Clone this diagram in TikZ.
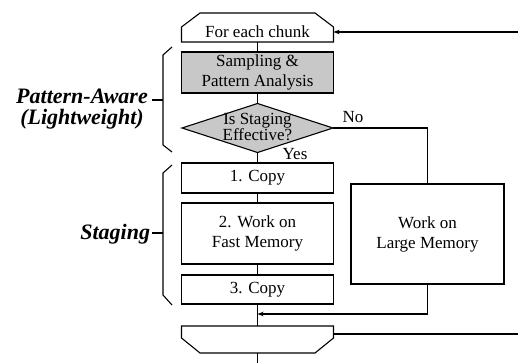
\documentclass[tikz,border=0pt]{standalone}
\usepackage{fontspec}
\setmainfont{Liberation Serif}
\usetikzlibrary{shapes.geometric,arrows.meta}
\definecolor{boxgray}{RGB}{200,200,200}
\begin{document}
\begin{tikzpicture}[x=1pt,y=-1pt,
  every node/.style={font=\fontsize{17}{20}\selectfont, inner sep=0pt, outer sep=0pt},
  box/.style={draw, line width=1.1pt, rectangle, align=center},
  shaded/.style={box, fill=boxgray},
  decision/.style={diamond, draw, line width=1.1pt, fill=boxgray},
  link/.style={line width=1.1pt},
  arrowlink/.style={link, -{Stealth[length=6pt,width=4.5pt]}},
  bracket/.style={line width=1.1pt},
  tag/.style={font=\fontsize{22}{21}\selectfont\bfseries\itshape, align=center}]
\useasboundingbox (0,0) rectangle (518,363);

% loop head and loop tail (chamfered outlines)
\draw[link] (181.5,42) -- (181.5,27) -- (200,13) -- (315,13) -- (333.5,27) -- (333.5,42) -- cycle;
\node[minimum width=152pt, minimum height=29pt, text height=21pt, text depth=0pt] (start) at (257.5,27.5) {For each chunk};

\draw[link] (181.5,326) -- (181.5,338) -- (200,353) -- (315,353) -- (333.5,338) -- (333.5,326) -- cycle;
\node[minimum width=152pt, minimum height=27pt] (end) at (257.5,339.5) {};

% pattern-aware part
\node[shaded, minimum width=152pt, minimum height=41pt] (sample) at (257.5,72.5) {Sampling \&\\Pattern Analysis};
\node[decision, minimum width=151pt, minimum height=49pt,
  label={[font=\fontsize{17}{15.5}\selectfont, align=center, yshift=1pt]center:Is Staging\\Effective?}] (check) at (257.5,128) {};

% staging part
\node[box, minimum width=152pt, minimum height=30pt] (copyin) at (257.5,178) {1. Copy};
\node[box, minimum width=152pt, minimum height=61pt] (work) at (257.5,233.5) {2. Work on\\Fast Memory};
\node[box, minimum width=152pt, minimum height=29pt] (copyout) at (257.5,289.5) {3. Copy};

% fallback path
\node[box, minimum width=153pt, minimum height=100pt] (large) at (427.5,234) {Work on\\Large Memory};

% connectors
\coordinate (merge) at (257.5,314);
\coordinate (loopin) at (518,32);
\coordinate (loopout) at (518,334);
\coordinate (exit) at (257.5,363);

\draw[link] (start) -- (sample);
\draw[link] (sample) -- (check);
\draw[link] (check) -- (copyin);
\draw[link] (copyin) -- (work);
\draw[link] (work) -- (copyout);
\draw[link] (copyout) -- (end);
\draw[link] (end) -- (exit);
\draw[link] (check.east) -| (large.north);
\draw[arrowlink] (large.south) |- (merge);
\draw[arrowlink] (loopin) -- (start.east |- loopin);
\draw[link] (end.east |- loopout) -- (loopout);

\node[anchor=base] (yes) at (295,160) {Yes};
\node[anchor=base] (no) at (353,123) {No};

% group brackets
\draw[bracket] (172,47) -- (163,55) -- (163,145) -- (172,152);
\draw[bracket] (152,100) -- (163,100);
\draw[bracket] (172,165) -- (163,173) -- (163,295) -- (172,305);
\draw[bracket] (152,233) -- (163,233);

\node[tag] (aware) at (82,109) {Pattern-Aware\\(Lightweight)};
\node[tag, anchor=base east] (staging) at (150,239) {Staging};
\end{tikzpicture}
\end{document}
